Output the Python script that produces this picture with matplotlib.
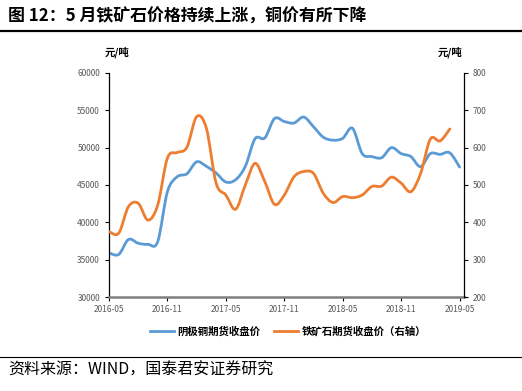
import matplotlib
matplotlib.use("Agg")
import matplotlib.pyplot as plt
from matplotlib.path import Path
from matplotlib.patches import PathPatch
from matplotlib.lines import Line2D
import numpy as np

plt.rcParams['font.family'] = ['Noto Sans CJK SC', 'DejaVu Sans']

# monthly, 2016-05 .. 2019-05
months = list(range(37))
copper = [35900, 35700, 37700, 37200, 37050, 37400, 44100, 46100, 46500, 48100,
          47500, 46600, 45400, 45700, 47500, 51200, 51300, 53900, 53500, 53300,
          54100, 52800, 51400, 51000, 51250, 52600, 49200, 48800, 48650, 50000,
          49200, 48800, 47450, 49200, 49100, 49300, 47400]
# iron ore ends 2019-04
iron = [375, 371, 442, 451, 406, 446, 572, 587, 601, 683,
        652, 505, 473, 435, 500, 558, 509, 448, 473, 522,
        536, 531, 478, 453, 469, 466, 473, 496, 497, 521,
        505, 482, 531, 623, 618, 650]
xtick_pos = [0, 6, 12, 18, 24, 30, 36]
xtick_lab = ["2016-05", "2016-11", "2017-05", "2017-11", "2018-05", "2018-11", "2019-05"]

blue = "#5B9BD5"
orange = "#ED7D31"
grey = "#595959"


def smooth_path(x, y):
    # excel-like smoothed line: cubic bezier through each point
    x = np.asarray(x, float)
    y = np.asarray(y, float)
    n = len(x)
    verts = [(x[0], y[0])]
    codes = [Path.MOVETO]
    for i in range(n - 1):
        p0 = i - 1 if i > 0 else i
        p3 = i + 2 if i + 2 < n else i + 1
        c1 = (x[i] + (x[i + 1] - x[p0]) / 6, y[i] + (y[i + 1] - y[p0]) / 6)
        c2 = (x[i + 1] - (x[p3] - x[i]) / 6, y[i + 1] - (y[p3] - y[i]) / 6)
        verts += [c1, c2, (x[i + 1], y[i + 1])]
        codes += [Path.CURVE4] * 3
    return Path(verts, codes)


fig = plt.figure(figsize=(5.22, 3.91), dpi=100)
ax = fig.add_axes([0.2088, 0.2404, 0.68, 0.573])
ax2 = ax.twinx()

ax.add_patch(PathPatch(smooth_path(months, copper), fill=False, edgecolor=blue,
                       lw=2.0, capstyle="round", joinstyle="round"))
ax2.add_patch(PathPatch(smooth_path(months[:len(iron)], iron), fill=False,
                        edgecolor=orange, lw=2.0, capstyle="round", joinstyle="round"))

ax.set_xlim(0, 36.45)
ax.set_ylim(30000, 60000)
ax.set_yticks(range(30000, 60001, 5000))
ax2.set_ylim(200, 800)
ax2.set_yticks(range(200, 801, 100))
ax.set_xticks(xtick_pos)
ax.set_xticklabels(xtick_lab)

for a in (ax, ax2):
    a.spines["top"].set_visible(False)
    a.tick_params(labelsize=6, colors=grey, length=3, width=0.8)
    a.tick_params(axis="both", color="black")
ax.spines["right"].set_visible(False)
ax.spines["left"].set_color("black")
ax.spines["left"].set_linewidth(0.9)
ax.spines["bottom"].set_color("#7f7f7f")
ax.spines["bottom"].set_linewidth(1.8)
ax2.spines["left"].set_visible(False)
ax2.spines["bottom"].set_visible(False)
ax2.spines["right"].set_color("black")
ax2.spines["right"].set_linewidth(0.9)
ax.tick_params(axis="x", pad=3)

# title, rules, units, source
fig.text(0.015, 0.958, "图 12：5 月铁矿石价格持续上涨，铜价有所下降", fontsize=12.2,
         fontweight="bold", va="center", ha="left")
fig.add_artist(Line2D([0, 1], [0.921, 0.921], color="black", lw=1.6))
fig.add_artist(Line2D([0, 1], [0.087, 0.087], color="black", lw=0.8))
fig.text(0.224, 0.867, "元/吨", fontsize=7.5, fontweight="bold", ha="center", va="center")
fig.text(0.862, 0.867, "元/吨", fontsize=7.5, fontweight="bold", ha="center", va="center")
fig.text(0.015, 0.053, "资料来源：WIND，国泰君安证券研究", fontsize=11.5, va="center", ha="left")

handles = [Line2D([], [], color=blue, lw=2.0), Line2D([], [], color=orange, lw=2.0)]
fig.legend(handles, ["阴极铜期货收盘价", "铁矿石期货收盘价（右轴）"], loc="center",
           bbox_to_anchor=(0.552, 0.153), ncol=2, frameon=False, handlelength=2.3,
           columnspacing=1.3, handletextpad=0.35,
           prop={"size": 7.5, "weight": "bold"})

fig.savefig("out.png", dpi=100)
